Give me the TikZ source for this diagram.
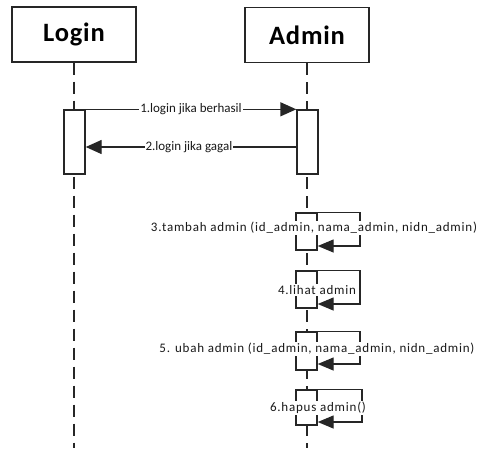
\documentclass[tikz,border=0pt]{standalone}
\usepackage{fontspec}
\setmainfont{Carlito}
\usetikzlibrary{arrows.meta}
\begin{document}
\begin{tikzpicture}[x=1pt,y=-1pt,
  ink/.style={draw=black!85,line width=1.4pt},
  head/.style={ink,rectangle,minimum width=124pt,minimum height=55pt,inner sep=0pt,
    font=\fontsize{26.5}{30}\selectfont\bfseries\addfontfeature{LetterSpace=3}},
  lifeline/.style={ink,dash pattern=on 12pt off 7pt},
  act/.style={ink,fill=white,rectangle,minimum width=21pt,inner sep=0pt},
  msg/.style={ink,-{Triangle[length=16pt,width=14pt]}},
  selfmsg/.style={ink,-{Triangle[length=16pt,width=13pt]}},
  lbl/.style={fill=white,inner sep=1pt,text=black!90,font=\fontsize{13}{15}\selectfont},
  wlbl/.style={lbl,font=\fontsize{13}{15}\selectfont\addfontfeature{LetterSpace=6}}]
\useasboundingbox (0,0) rectangle (478,448);

% lifeline heads
\node[head] (login) at (74,34.5) {Login};
\node[head] (admin) at (307,35) {Admin};
\coordinate (loginEnd) at (74,448);
\coordinate (adminEnd) at (307,448);

% dashed lifelines
\draw[lifeline] (login.south) -- (loginEnd);
\draw[lifeline] (admin.south) -- (adminEnd);

% activation bars for the login exchange
\node[act,minimum height=64pt] (loginAct) at (74.5,142) {};
\node[act,minimum height=64pt] (adminAct) at (307.5,142) {};

% 1 / 2: login messages
\coordinate (m2) at (0,147);
\draw[msg] (loginAct.north east) -- (adminAct.north west)
  node[lbl,pos=0.5] {1.login jika berhasil};
\draw[msg] (adminAct.west |- m2) -- (loginAct.east |- m2)
  node[lbl,pos=0.51] {2.login jika gagal};

% self calls on Admin
\node[act,minimum height=37pt] (a3) at (306.5,231.5) {};
\node[act,minimum height=37pt] (a4) at (306.5,289.5) {};
\node[act,minimum height=38pt] (a5) at (306.5,351) {};
\node[act,minimum height=35pt] (a6) at (306.5,407.5) {};

\coordinate (r3) at (360,246);
\coordinate (r4) at (360,304);
\coordinate (r5) at (360,364);
\coordinate (r6) at (362,422);

\draw[selfmsg] (a3.north east) -| (r3) -- (a3.east |- r3);
\draw[selfmsg] (a4.north east) -| (r4) -- (a4.east |- r4);
\draw[selfmsg] (a5.north east) -| (r5) -- (a5.east |- r5);
\draw[selfmsg] (a6.north east) -| (r6) -- (a6.east |- r6);

\node[wlbl] (l3) at (314,228) {3.tambah admin (id\_admin, nama\_admin, nidn\_admin)};
\node[wlbl] (l4) at (317,290) {4.lihat admin};
\node[wlbl] (l5) at (317,349) {5. ubah admin (id\_admin, nama\_admin, nidn\_admin)};
\node[wlbl] (l6) at (318,408) {6.hapus admin()};
\end{tikzpicture}
\end{document}
